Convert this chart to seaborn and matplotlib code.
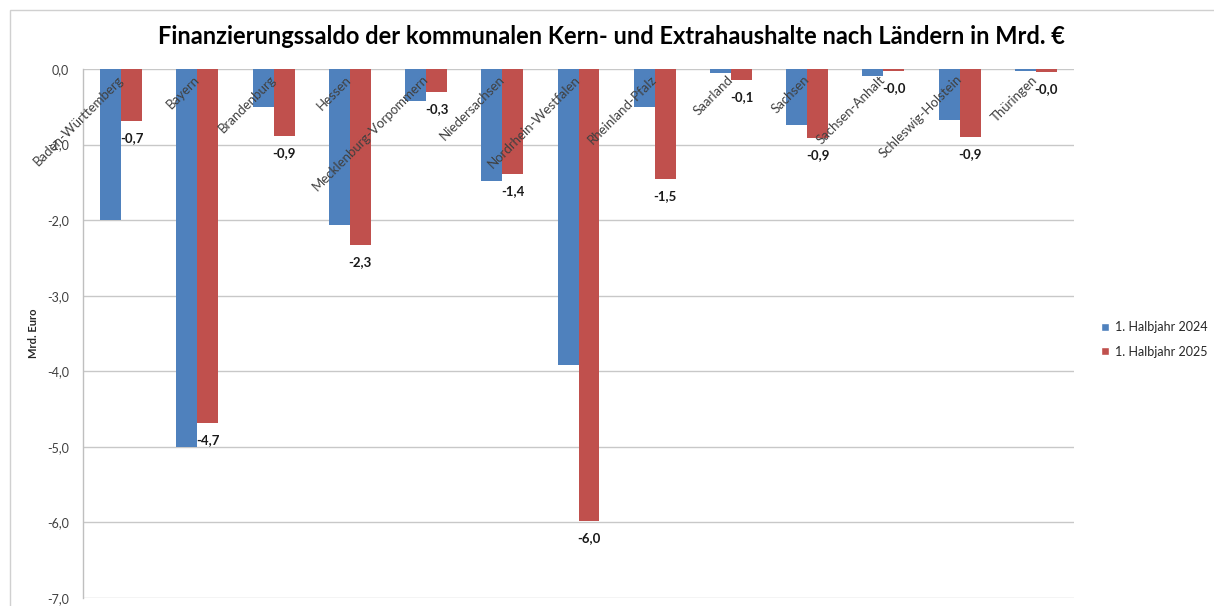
"""Finanzierungssaldo der kommunalen Kern- und Extrahaushalte nach Ländern (1. Halbjahr 2024 vs. 2025)."""

import matplotlib
matplotlib.use("Agg")
import matplotlib.pyplot as plt
import pandas as pd
import seaborn as sns
from matplotlib.patches import Rectangle, Patch

LAENDER = [
    "Baden-Württemberg", "Bayern", "Brandenburg", "Hessen", "Mecklenburg-Vorpommern",
    "Niedersachsen", "Nordrhein-Westfalen", "Rheinland-Pfalz", "Saarland", "Sachsen",
    "Sachsen-Anhalt", "Schleswig-Holstein", "Thüringen",
]
SALDO_2024 = [-2.0, -5.0, -0.5, -2.06, -0.43, -1.48, -3.92, -0.5, -0.05, -0.74, -0.09, -0.67, -0.03]
SALDO_2025 = [-0.69, -4.68, -0.88, -2.33, -0.3, -1.39, -5.98, -1.46, -0.14, -0.91, -0.03, -0.9, -0.04]
SERIES = ["1. Halbjahr 2024", "1. Halbjahr 2025"]
COLORS = {"1. Halbjahr 2024": "#4F81BD", "1. Halbjahr 2025": "#C0504D"}
Y_TICKS = [0, -1, -2, -3, -4, -5, -6, -7]

TITLE = "Finanzierungssaldo der kommunalen Kern- und Extrahaushalte nach Ländern in Mrd. €"


def de(v: float) -> str:
    return f"{v:.1f}".replace(".", ",")


def main() -> None:
    sns.set_theme(style="white")
    plt.rcParams["font.family"] = ["Lato", "DejaVu Sans"]

    df = pd.DataFrame({
        "Land": LAENDER * 2,
        "Saldo": SALDO_2024 + SALDO_2025,
        "Halbjahr": [SERIES[0]] * len(LAENDER) + [SERIES[1]] * len(LAENDER),
    })

    fig = plt.figure(figsize=(12.14, 6.06), dpi=100)
    ax = fig.add_axes([83 / 1214, 1 - 598 / 606, (1074 - 83) / 1214, (598 - 69) / 606])

    sns.barplot(data=df, x="Land", y="Saldo", hue="Halbjahr", hue_order=SERIES,
                palette=COLORS, saturation=1, width=0.55, gap=0, linewidth=0,
                ax=ax, legend=False)

    ax.set_ylim(-7, 0)
    ax.set_xlim(-0.5, len(LAENDER) - 0.5)
    ax.set_yticks(Y_TICKS)
    ax.set_yticklabels([de(v) for v in Y_TICKS], fontsize=9, color="#404040")
    ax.tick_params(axis="y", length=0, pad=10)
    ax.set_xticks([])
    ax.set_xlabel("")
    ax.set_ylabel("Mrd. Euro", fontsize=8, fontweight="bold", labelpad=6)
    ax.grid(axis="y", color="#C8C8C8", linewidth=1)
    ax.set_axisbelow(True)
    for side in ["top", "right", "bottom"]:
        ax.spines[side].set_visible(False)
    ax.spines["left"].set_color("#BFBFBF")
    ax.spines["left"].set_linewidth(1)

    # Kategorienamen direkt unter der Nulllinie, schräg
    for i, name in enumerate(LAENDER):
        ax.annotate(name, xy=(i, 0), xytext=(3, -3), textcoords="offset points",
                    rotation=45, ha="right", va="top", fontsize=9.5, color="#404040",
                    annotation_clip=False)

    # Werte nur für 2025
    ax.bar_label(ax.containers[1], labels=[de(v) for v in SALDO_2025], padding=8,
                 fontsize=9.5, fontweight="bold", color="#1a1a1a")

    handles = [Patch(facecolor=COLORS[s], label=s) for s in SERIES]
    fig.legend(handles=handles, loc="upper left", bbox_to_anchor=(1090 / 1214, 1 - 310 / 606),
               frameon=False, fontsize=9, handlelength=0.6, handleheight=0.6,
               handletextpad=0.5, labelspacing=1.0)

    fig.text(611 / 1214, 1 - 37 / 606, TITLE, ha="center", va="center",
             fontsize=17, fontweight="bold", color="#000000")

    fig.patches.append(Rectangle((10 / 1214, -0.1), 2, 1 - 10 / 606 + 0.1,
                                 transform=fig.transFigure, fill=False,
                                 edgecolor="#D0D0D0", linewidth=1))

    fig.savefig("out.png", dpi=100)
    plt.close(fig)


if __name__ == "__main__":
    main()
